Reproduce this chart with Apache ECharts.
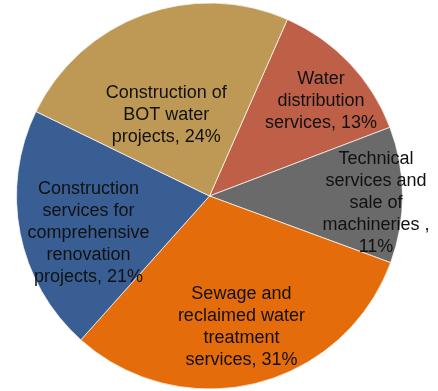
<!DOCTYPE html>
<html>
<head>
<meta charset="utf-8">
<script src="https://cdn.jsdelivr.net/npm/echarts@6/dist/echarts.min.js"></script>
<style>
html,body{margin:0;padding:0;background:#fff;}
#chart{width:438px;height:391px;}
</style>
</head>
<body>
<div id="chart"></div>
<script>
// Data (clockwise order starting from top-right)
var categories = [
  'Water\ndistribution\nservices',
  'Technical\nservices and\nsale of\nmachineries',
  'Sewage and\nreclaimed water\ntreatment\nservices',
  'Construction\nservices for\ncomprehensive\nrenovation\nprojects',
  'Construction of\nBOT water\nprojects'
];
var values = [12.6, 11.4, 31.0, 20.6, 24.4];
var percentLabels = ['13%', '11%', '31%', '21%', '24%'];
var separators = [', ', ' ,\n', ', ', ', ', ', '];

// Styles
var colors = ['#BE5F48', '#6A6A6A', '#E46C0B', '#395E93', '#BE9955'];
var R = 193;
var center = [209.5, 196];
// label ring (inner, outer) per slice: label sits at ring middle
var labelRings = [[103, 193], [140, 193], [73, 193], [58, 193], [0, 187]];
// small label nudges (best-fit placement)
var labelNudges = [[2, 9], [-3, 8], [-1, -1], [5, 12], [-10, 10]];

var data = categories.map(function (c, i) {
  return { name: c, value: values[i], itemStyle: { color: colors[i] } };
});

var series = [{
  type: 'pie',
  center: center,
  radius: [0, R],
  startAngle: 66.2,
  clockwise: true,
  avoidLabelOverlap: false,
  silent: true,
  label: { show: false },
  labelLine: { show: false },
  itemStyle: { borderColor: '#ffffff', borderWidth: 0.7 },
  data: data
}];

categories.forEach(function (c, k) {
  series.push({
    type: 'pie',
    center: center,
    radius: labelRings[k],
    startAngle: 66.2,
    clockwise: true,
    avoidLabelOverlap: false,
    silent: true,
    itemStyle: { color: 'rgba(0,0,0,0)', borderWidth: 0 },
    labelLine: { show: false },
    labelLayout: function (p) {
      var n = labelNudges[k];
      return { dx: n[0], dy: n[1] };
    },
    label: {
      show: true,
      position: 'inside',
      color: '#111',
      fontFamily: 'Liberation Sans, Arial, sans-serif',
      fontSize: 18,
      lineHeight: 22,
      align: 'center',
      formatter: function (p) {
        return categories[p.dataIndex] + separators[p.dataIndex] + percentLabels[p.dataIndex];
      }
    },
    data: categories.map(function (cc, i) {
      return { name: cc, value: values[i], label: { show: i === k } };
    })
  });
});

var chart = echarts.init(document.getElementById('chart'));
chart.setOption({
  animation: false,
  backgroundColor: '#ffffff',
  series: series
});
</script>
</body>
</html>
